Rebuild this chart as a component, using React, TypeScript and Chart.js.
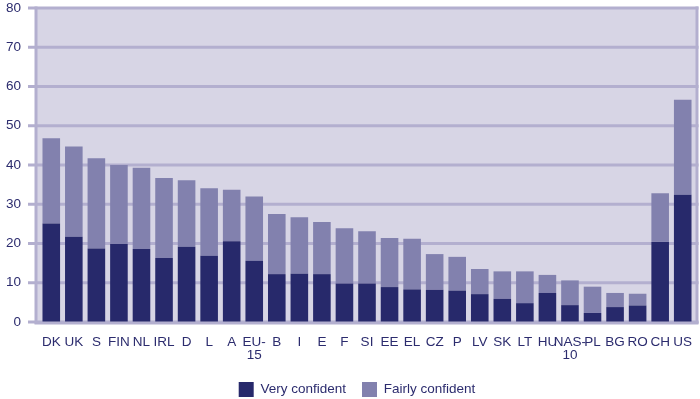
import { useEffect, useRef } from 'react';
import { Chart, registerables } from 'chart.js';
Chart.register(...registerables);

const categories: (string | string[])[] = ['DK', 'UK', 'S', 'FIN', 'NL', 'IRL', 'D', 'L', 'A', ['EU-', '15'], 'B', 'I', 'E', 'F', 'SI', 'EE', 'EL', 'CZ', 'P', 'LV', 'SK', 'LT', 'HU', ['NAS-', '10'], 'PL', 'BG', 'RO', 'CH', 'US'];
const veryConfident = [25.1, 21.7, 18.7, 19.9, 18.6, 16.3, 19.2, 16.9, 20.6, 15.6, 12.2, 12.3, 12.2, 9.8, 9.8, 8.9, 8.3, 8.2, 8.0, 7.1, 5.9, 4.8, 7.4, 4.3, 2.3, 3.8, 4.2, 20.4, 32.4];
const fairlyConfident = [21.7, 23.0, 23.0, 20.1, 20.7, 20.4, 16.9, 17.2, 13.1, 16.4, 15.3, 14.4, 13.3, 14.1, 13.3, 12.5, 12.9, 9.1, 8.6, 6.4, 7.0, 8.1, 4.6, 6.3, 6.7, 3.6, 3.0, 12.4, 24.2];
const seriesNames = ['Very confident', 'Fairly confident'];
const yMin = 0;
const yMax = 80;
const yStep = 10;

const DARK = '#27296b';
const LIGHT = '#8281ae';
const BG = '#d7d5e5';
const GRID = '#b3afcf';
const TEXT = '#2c2c6e';
const FONT = '"Liberation Sans", Arial, sans-serif';

const framePlugin = {
  id: 'frame',
  afterLayout(chart: any) {
    const lg = chart.legend;
    if (lg) {
      lg.top += 8;
      lg.bottom += 8;
      lg.left += 10;
      lg.right += 10;
    }
    const xs = chart.scales.x;
    if (xs) xs.bottom += 14;
  },
  beforeDraw(chart: any) {
    const { ctx, chartArea, scales } = chart;
    const y = scales.y;
    const left = chartArea.left - 4;
    const right = chartArea.right + 3;
    ctx.save();
    ctx.fillStyle = BG;
    ctx.fillRect(left, chartArea.top, right - left, chartArea.bottom - chartArea.top);
    ctx.strokeStyle = GRID;
    ctx.lineWidth = 3;
    y.ticks.forEach((t: any) => {
      const py = y.getPixelForValue(t.value);
      ctx.beginPath();
      ctx.moveTo(left - 8, py);
      ctx.lineTo(right + 1.5, py);
      ctx.stroke();
    });
    ctx.beginPath();
    ctx.moveTo(left, chartArea.top - 1.5);
    ctx.lineTo(left, chartArea.bottom + 1.5);
    ctx.moveTo(right, chartArea.top - 1.5);
    ctx.lineTo(right, chartArea.bottom + 1.5);
    ctx.stroke();
    ctx.restore();
  },
  afterDatasetsDraw(chart: any) {
    const { ctx, chartArea, scales } = chart;
    const py = scales.y.getPixelForValue(0);
    ctx.save();
    ctx.strokeStyle = GRID;
    ctx.lineWidth = 3;
    ctx.beginPath();
    ctx.moveTo(chartArea.left - 5.5, py + 1);
    ctx.lineTo(chartArea.right + 4.5, py + 1);
    ctx.stroke();
    ctx.restore();
  },
};

export default function App() {
  const ref = useRef<HTMLCanvasElement | null>(null);
  useEffect(() => {
    document.body.style.margin = '0';
    const chart = new Chart(ref.current as HTMLCanvasElement, {
      type: 'bar',
      data: {
        labels: categories,
        datasets: [
          { label: seriesNames[0], data: veryConfident, backgroundColor: DARK, borderWidth: 0 },
          { label: seriesNames[1], data: fairlyConfident, backgroundColor: LIGHT, borderWidth: 0 },
        ],
      },
      options: {
        animation: false,
        responsive: false,
        maintainAspectRatio: false,
        layout: { padding: { top: 8, right: 6, left: 0, bottom: 0 } },
        datasets: { bar: { categoryPercentage: 1, barPercentage: 0.78 } },
        plugins: {
          legend: {
            position: 'bottom',
            labels: {
              boxWidth: 15,
              boxHeight: 15,
              padding: 16,
              color: TEXT,
              font: { family: FONT, size: 13.5 },
            },
          },
          tooltip: { enabled: false },
        },
        scales: {
          x: {
            stacked: true,
            grid: { display: false },
            border: { display: false },
            afterFit: (s: any) => { s.height = 36; },
            ticks: {
              color: TEXT,
              font: { family: FONT, size: 13.5, lineHeight: 1.02 },
              maxRotation: 0,
              autoSkip: false,
              padding: 5,
            },
          },
          y: {
            stacked: true,
            min: yMin,
            max: yMax,
            grid: { display: false },
            border: { display: false },
            afterFit: (s: any) => { s.width = 40; s.paddingTop = 0; s.paddingBottom = 0; },
            ticks: {
              stepSize: yStep,
              color: TEXT,
              font: { family: FONT, size: 13.5 },
              padding: 11,
            },
          },
        },
      },
      plugins: [framePlugin],
    });
    return () => chart.destroy();
  }, []);
  return (
    <div style={{ width: 700, height: 399 }}>
      <canvas ref={ref} width={700} height={399} style={{ display: 'block', width: 700, height: 399 }} />
    </div>
  );
}
